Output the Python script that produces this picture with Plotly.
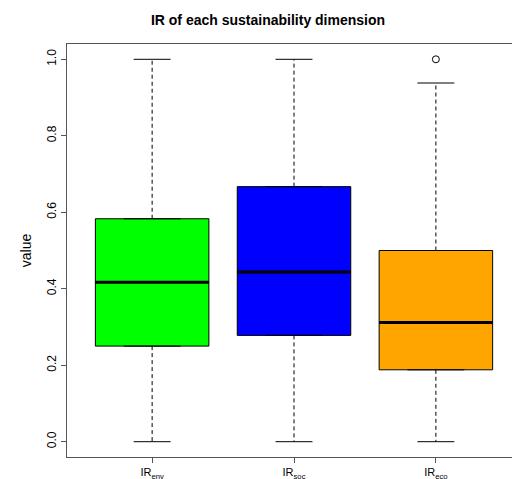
import plotly.graph_objects as go

categories = ["IR<sub>env</sub>", "IR<sub>soc</sub>", "IR<sub>eco</sub>"]
mins = [0.0, 0.0, 0.0]
q1s = [0.25, 0.278, 0.188]
medians = [0.417, 0.444, 0.312]
q3s = [0.583, 0.667, 0.5]
maxs = [1.0, 1.0, 0.938]
outliers = [[], [], [1.0]]
colors = ["#00FF00", "#0000FF", "#FFA500"]

xs = [1, 2, 3]
BW = 0.8
CAP = 0.13
fig = go.Figure()
for i, x in enumerate(xs):
    fig.add_trace(go.Box(x=[x], q1=[q1s[i]], median=[medians[i]], q3=[q3s[i]],
                         lowerfence=[q1s[i]], upperfence=[q3s[i]], width=BW,
                         fillcolor=colors[i], line=dict(color="black", width=1),
                         boxpoints=False, hoverinfo="skip", showlegend=False))
    fig.add_trace(go.Scatter(x=[x, x, None, x, x], y=[q3s[i], maxs[i], None, q1s[i], mins[i]],
                             mode="lines", line=dict(color="black", width=1, dash="4px,3px"),
                             showlegend=False, hoverinfo="skip"))
    fig.add_trace(go.Scatter(x=[x - CAP, x + CAP, None, x - CAP, x + CAP],
                             y=[maxs[i], maxs[i], None, mins[i], mins[i]],
                             mode="lines", line=dict(color="black", width=1),
                             showlegend=False, hoverinfo="skip"))
    fig.add_trace(go.Scatter(x=[x - BW / 2, x + BW / 2], y=[medians[i], medians[i]],
                             mode="lines", line=dict(color="black", width=3),
                             showlegend=False, hoverinfo="skip"))
    if outliers[i]:
        fig.add_trace(go.Scatter(x=[x] * len(outliers[i]), y=outliers[i], mode="markers",
                                 marker=dict(symbol="circle-open", size=7, color="black"),
                                 showlegend=False, hoverinfo="skip"))

fig.update_layout(
    width=520, height=479, plot_bgcolor="white", paper_bgcolor="white",
    margin=dict(l=59, r=6, t=36, b=28),
    font=dict(family="Liberation Sans, Arial", size=12, color="black"),
    title=dict(text="<b>IR of each sustainability dimension</b>", x=0.5, xanchor="center",
               y=0.985, yanchor="top", font=dict(size=14)),
)
fig.update_xaxes(range=[0.4, 3.6], tickvals=xs, ticktext=categories, showgrid=False,
                 zeroline=False, showline=True, linecolor="#555555", mirror=True,
                 ticks="outside", ticklen=5, tickcolor="#555555", tickfont=dict(size=11))
fig.update_yaxes(range=[-0.04, 1.04], tickvals=[0, 0.2, 0.4, 0.6, 0.8, 1.0],
                 ticktext=["0.0", "0.2", "0.4", "0.6", "0.8", "1.0"], tickangle=-90,
                 showgrid=False, zeroline=False, showline=True, linecolor="#555555",
                 mirror=True, ticks="outside", ticklen=5, tickcolor="#555555",
                 title=dict(text="value", standoff=10))
fig.write_html("out.html")
